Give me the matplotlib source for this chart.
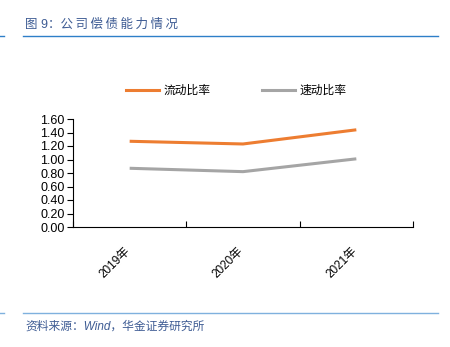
import matplotlib
matplotlib.use('Agg')
import matplotlib.pyplot as plt
from matplotlib.lines import Line2D

plt.rcParams['font.family'] = ['Liberation Sans', 'Noto Sans CJK SC', 'DejaVu Sans']

# data
years = ['2019年', '2020年', '2021年']
current_ratio = [1.27, 1.23, 1.44]
quick_ratio = [0.87, 0.82, 1.01]
yticks = [0.00, 0.20, 0.40, 0.60, 0.80, 1.00, 1.20, 1.40, 1.60]

orange = '#ED7D31'
grey = '#A5A5A5'
head_blue = '#2E7FC8'
text_blue = '#3E5C94'

fig = plt.figure(figsize=(4.5, 3.47), dpi=100)
ax = fig.add_axes([73/450, 1-227/347, 340/450, 108/347])

x = range(len(years))
ax.plot(x, current_ratio, color=orange, lw=2.2, solid_capstyle='butt')
ax.plot(x, quick_ratio, color=grey, lw=2.2, solid_capstyle='butt')

ax.set_xlim(-0.5, len(years) - 0.5)
ax.set_ylim(0, 1.6)
ax.set_yticks(yticks)
ax.set_yticklabels(['%.2f' % v for v in yticks], fontsize=9)
ax.tick_params(axis='y', direction='out', length=4, width=0.8, pad=2)

# category boundaries get the ticks, labels sit centered under each year
ax.set_xticks([-0.5, 0.5, 1.5, 2.5])
ax.set_xticklabels([])
ax.tick_params(axis='x', direction='in', length=4, width=0.8)
for i, lab in enumerate(years):
    ax.annotate(lab, xy=(i, 0), xycoords=('data', 'axes fraction'),
                xytext=(-4, -13), textcoords='offset points',
                rotation=45, ha='right', va='top', fontsize=8.5,
                rotation_mode='anchor')

for s in ['top', 'right']:
    ax.spines[s].set_visible(False)
for s in ['left', 'bottom']:
    ax.spines[s].set_linewidth(0.8)

handles = [Line2D([], [], color=orange, lw=2.2), Line2D([], [], color=grey, lw=2.2)]
fig.legend(handles, ['流动比率', '速动比率'], loc='center', bbox_to_anchor=(0.525, 1-91/347),
           ncol=2, frameon=False, fontsize=8.5, handlelength=2.8, columnspacing=4.3,
           handletextpad=0.4)

# header and footer
title = '图 9：' + '\u2009'.join('公司偿债能力情况')
fig.text(25/450, 1-25/347, title, color=text_blue, fontsize=9,
         va='center', ha='left')
fig.add_artist(Line2D([23/450, 438/450], [1-36/347, 1-36/347], color=head_blue, lw=1.0))
fig.add_artist(Line2D([0, 4/450], [1-36/347, 1-36/347], color=head_blue, lw=1.0))
fig.add_artist(Line2D([23/450, 438/450], [1-313/347, 1-313/347], color='#7FB1DE', lw=1.0))
fig.add_artist(Line2D([0, 4/450], [1-313/347, 1-313/347], color='#7FB1DE', lw=1.0))
fig.text(25/450, 1-327/347, '资料来源：Wind，华金证券研究所', color=text_blue, fontsize=8.5,
         style='italic', va='center', ha='left')

fig.savefig('out.png', dpi=100)
